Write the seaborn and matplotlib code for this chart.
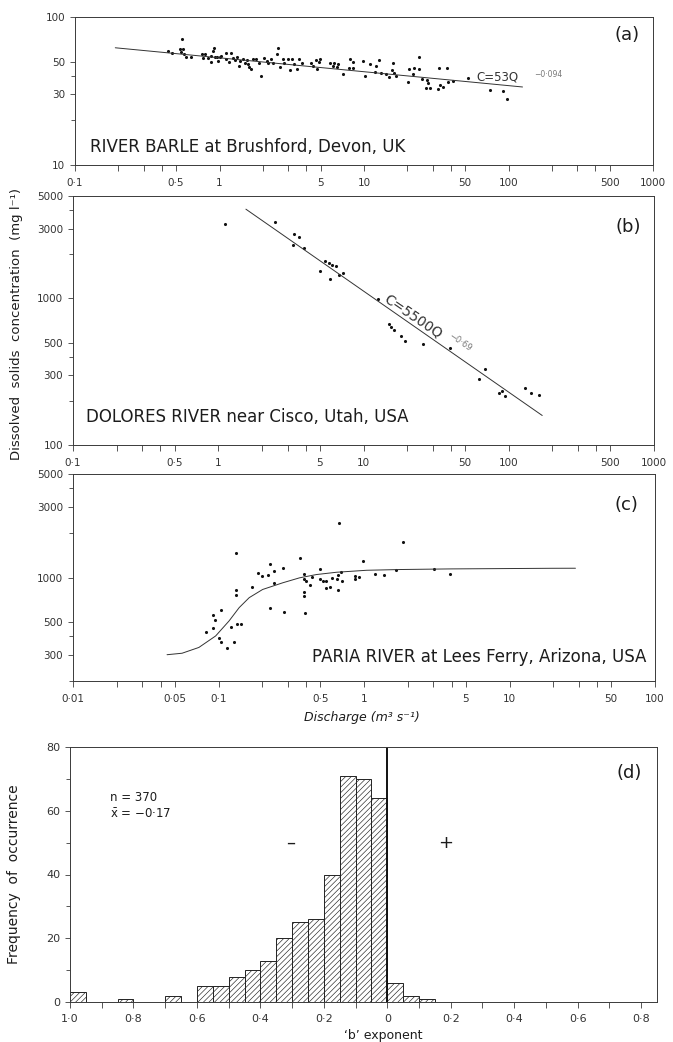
import numpy as np
import matplotlib
matplotlib.use("Agg")
import matplotlib.pyplot as plt
import seaborn as sns
from matplotlib.ticker import FixedLocator, FixedFormatter, NullFormatter

# ---------------- data ----------------
# (a) River Barle at Brushford -- discharge (m3/s) and dissolved solids (mg/l)
barle_q = [0.438, 0.467, 0.553, 0.533, 0.556, 0.539, 0.571, 0.586, 0.635, 0.754,
           0.794, 0.765, 0.837, 0.873, 0.916, 0.897, 0.869, 0.931, 0.966, 1.008,
           0.982, 1.024, 1.109, 1.109, 1.195, 1.169, 1.246, 1.286, 1.327, 1.365,
           1.387, 1.462, 1.494, 1.556, 1.581, 1.607, 1.660, 1.698, 1.789, 1.876,
           1.946, 2.032, 2.122, 2.177, 2.270, 2.355, 2.512, 2.553, 2.622, 2.735,
           2.806, 2.965, 3.076, 3.16, 3.279, 3.42, 3.548, 3.706, 4.30, 4.46,
           4.63, 4.71, 4.88, 4.96, 5.82, 6.07, 6.23, 6.47, 6.64, 7.12,
           8.0, 8.43, 7.87, 8.35, 9.89, 10.16, 11.0, 11.9, 12.05, 12.7,
           13.05, 14.2, 14.96, 15.55, 15.95, 16.2, 16.57, 20.26, 20.6, 21.7,
           22.2, 24.1, 24.1, 25.1, 27.2, 27.9, 26.9, 28.6, 32.7, 33.2,
           33.6, 35.0, 37.3, 37.9, 41.1, 52.2, 74.5, 92.0, 97.2]
barle_c = [58.9, 57.1, 71.3, 60.5, 61.1, 57.7, 56.0, 53.4, 53.4, 56.0,
           56.2, 53.1, 52.6, 54.8, 61.4, 58.9, 49.4, 53.9, 53.9, 53.4,
           50.7, 54.5, 56.8, 52.0, 57.4, 49.4, 53.1, 51.2, 53.9, 46.9,
           50.4, 52.0, 49.1, 51.2, 47.9, 46.1, 44.5, 51.8, 51.8, 49.1,
           40.1, 53.1, 50.4, 48.6, 52.0, 48.6, 56.0, 61.4, 46.1, 51.8,
           49.1, 51.8, 43.9, 52.0, 47.9, 44.5, 51.8, 48.6, 48.6, 46.9,
           51.2, 44.5, 49.4, 51.8, 49.1, 46.7, 48.6, 45.7, 47.9, 41.2,
           51.8, 49.9, 45.0, 45.4, 50.4, 40.1, 48.1, 42.3, 46.9, 51.2,
           42.0, 41.2, 39.1, 43.9, 49.1, 41.7, 39.9, 36.6, 44.5, 41.0,
           45.0, 53.9, 44.5, 38.1, 37.5, 35.6, 33.3, 33.3, 32.5, 45.4,
           34.7, 33.8, 45.4, 36.6, 36.9, 38.5, 32.1, 31.6, 27.9]
barle_coef, barle_exp = 53, -0.094
barle_fit_range = [0.19, 125]

# (b) Dolores River near Cisco
dolores_q = [1.121, 2.46, 3.33, 3.57, 3.29, 3.905, 5.46, 5.75, 6.07, 6.47,
             5.04, 5.88, 6.75, 7.19, 12.56, 14.9, 15.55, 16.13, 18.24, 19.44,
             25.5, 39.4, 68.7, 62.8, 85.9, 89.7, 93.5, 130, 143, 160.7]
dolores_c = [3221, 3340, 2753, 2638, 2317, 2199, 1801, 1754, 1692, 1665,
             1539, 1351, 1446, 1485, 987, 670, 642, 610, 557, 515,
             489, 462, 330, 282, 228, 234, 217, 244, 228, 220]
dolores_coef, dolores_exp = 5500, -0.69
dolores_fit_range = [1.55, 170]

# (c) Paria River at Lees Ferry
paria_q = [0.0823, 0.092, 0.0941, 0.092, 0.1008, 0.1035, 0.1046, 0.114, 0.1227, 0.128,
           0.1349, 0.1438, 0.1327, 0.1327, 0.1327, 0.1698, 0.1856, 0.1977, 0.2202, 0.2272,
           0.2394, 0.2421, 0.2272, 0.2764, 0.2808, 0.3648, 0.3844, 0.3844, 0.3844, 0.3844,
           0.3906, 0.4014, 0.4230, 0.4416, 0.4961, 0.4961, 0.5229, 0.5519, 0.5458, 0.5883,
           0.6034, 0.6577, 0.6535, 0.6932, 0.7011, 0.6641, 0.6714, 0.8664, 0.8664, 0.928,
           0.989, 1.191, 1.382, 1.665, 1.841, 3.017, 3.89]
paria_c = [426, 556, 517, 455, 390, 365, 603, 334, 462, 365,
           484, 489, 1465, 822, 757, 866, 1075, 1031, 1042, 1236,
           1102, 921, 626, 1154, 589, 1356, 1059, 980, 797, 749,
           580, 945, 884, 1011, 1144, 980, 945, 945, 844, 866,
           995, 1047, 970, 1085, 945, 818, 2329, 1020, 980, 1011,
           1287, 1064, 1036, 1119, 1726, 1149, 1064]
paria_curve_q = [0.0443, 0.0562, 0.0733, 0.0956, 0.1182, 0.1387, 0.1626, 0.201, 0.2764,
                 0.3607, 0.471, 0.647, 1.044, 1.774, 3.94, 19.4, 28.4]
paria_curve_c = [301, 308, 337, 403, 509, 626, 731, 830, 921,
                 995, 1047, 1085, 1119, 1132, 1143, 1154, 1155]

# (d) histogram of 'b' exponents
b_bin_left = [-1.00, -0.95, -0.90, -0.85, -0.80, -0.75, -0.70, -0.65, -0.60, -0.55,
              -0.50, -0.45, -0.40, -0.35, -0.30, -0.25, -0.20, -0.15, -0.10, -0.05,
              0.00, 0.05, 0.10]
b_bin_width = 0.05
b_counts = [3, 0, 0, 1, 0, 0, 2, 0, 5, 5,
            8, 10, 13, 20, 25, 26, 40, 71, 70, 64,
            6, 2, 1]

# tick labels
q_ticks_ab = [0.1, 0.5, 1, 5, 10, 50, 100, 500, 1000]
q_labels_ab = ["0·1", "0·5", "1", "5", "10", "50", "100", "500", "1000"]
q_minor_ab = [0.2, 0.3, 0.4, 2, 3, 4, 20, 30, 40, 200, 300, 400]
q_ticks_c = [0.01, 0.05, 0.1, 0.5, 1, 5, 10, 50, 100]
q_labels_c = ["0·01", "0·05", "0·1", "0·5", "1", "5", "10", "50", "100"]
q_minor_c = [0.02, 0.03, 0.04, 0.2, 0.3, 0.4, 2, 3, 4, 20, 30, 40]
a_yticks, a_ylabels, a_yminor = [10, 30, 50, 100], ["10", "30", "50", "100"], [20, 40]
b_yticks = [100, 300, 500, 1000, 3000, 5000]
b_ylabels = ["100", "300", "500", "1000", "3000", "5000"]
b_yminor = [200, 400, 2000, 4000]
c_yticks = [300, 500, 1000, 3000, 5000]
c_ylabels = ["300", "500", "1000", "3000", "5000"]
c_yminor = [200, 400, 2000, 4000]
d_xticks = [-1.0, -0.8, -0.6, -0.4, -0.2, 0.0, 0.2, 0.4, 0.6, 0.8]
d_xlabels = ["1·0", "0·8", "0·6", "0·4", "0·2", "0", "0·2", "0·4", "0·6", "0·8"]
d_xminor = [-0.9, -0.7, -0.5, -0.3, -0.1, 0.1, 0.3, 0.5, 0.7]
d_yticks, d_yminor = [0, 20, 40, 60, 80], [10, 30, 50, 70]

# ---------------- style ----------------
sns.set_style("ticks")
INK = "#1c1c1c"
plt.rcParams["font.family"] = ["DejaVu Sans"]
plt.rcParams.update({
    "axes.edgecolor": "#3a3a3a", "axes.linewidth": 0.7,
    "xtick.color": "#3a3a3a", "ytick.color": "#3a3a3a",
    "xtick.labelcolor": "#333333", "ytick.labelcolor": "#333333",
    "xtick.direction": "out", "ytick.direction": "out",
    "xtick.major.size": 4.5, "xtick.minor.size": 4.0,
    "ytick.major.size": 3.5, "ytick.minor.size": 3.0,
    "xtick.major.width": 0.6, "xtick.minor.width": 0.6,
    "ytick.major.width": 0.6, "ytick.minor.width": 0.6,
    "xtick.major.pad": 4.5,
    "xtick.labelsize": 7.5, "ytick.labelsize": 7.5,
    "hatch.linewidth": 0.45, "hatch.color": "#333333",
    "mathtext.fontset": "dejavusans",
})

W, H = 673, 1042
fig = plt.figure(figsize=(W / 100, H / 100), dpi=100)


def box(l, t, r, b):
    return [l / W, 1 - b / H, (r - l) / W, (b - t) / H]


ax_a = fig.add_axes(box(75, 17, 653, 165))
ax_b = fig.add_axes(box(73, 196, 654, 445))
ax_c = fig.add_axes(box(73, 474, 655, 681))
ax_d = fig.add_axes(box(70, 747, 657, 1002))


def style_log(ax, xlim, ylim, xt, xl, xm, yt, yl, ym):
    ax.set_xscale("log")
    ax.set_yscale("log")
    ax.set_xlim(*xlim)
    ax.set_ylim(*ylim)
    ax.xaxis.set_major_locator(FixedLocator(xt))
    ax.xaxis.set_major_formatter(FixedFormatter(xl))
    ax.xaxis.set_minor_locator(FixedLocator(xm))
    ax.xaxis.set_minor_formatter(NullFormatter())
    ax.yaxis.set_major_locator(FixedLocator(yt))
    ax.yaxis.set_major_formatter(FixedFormatter(yl))
    ax.yaxis.set_minor_locator(FixedLocator(ym))
    ax.yaxis.set_minor_formatter(NullFormatter())
    ax.set_xlabel("")
    ax.set_ylabel("")
    for s in ax.spines.values():
        s.set_visible(True)


dot_kw = dict(s=5, color="#111111", linewidth=0, legend=False)
line_kw = dict(color="#333333", linewidth=0.7, legend=False)

# (a)
qa = np.geomspace(barle_fit_range[0], barle_fit_range[1], 60)
sns.lineplot(x=qa, y=barle_coef * qa ** barle_exp, ax=ax_a, **line_kw)
sns.scatterplot(x=barle_q, y=barle_c, ax=ax_a, **dot_kw)
style_log(ax_a, (0.1, 1000), (10, 100), q_ticks_ab, q_labels_ab, q_minor_ab,
          a_yticks, a_ylabels, a_yminor)
ax_a.text(0.026, 0.122, "RIVER BARLE at Brushford, Devon, UK", transform=ax_a.transAxes,
          fontsize=12, ha="left", va="center", color=INK)
ax_a.text(0.9775, 0.878, "(a)", transform=ax_a.transAxes, fontsize=13,
          ha="right", va="center", color=INK)
ax_a.text(60, 39.4, "C=53Q", fontsize=8.5, ha="left", va="center", color="#333333")
ax_a.text(150, 40.8, "−0·094", fontsize=5.5, ha="left", va="center", color="#777777")

# (b)
qb = np.geomspace(dolores_fit_range[0], dolores_fit_range[1], 60)
sns.lineplot(x=qb, y=dolores_coef * qb ** dolores_exp, ax=ax_b, **line_kw)
sns.scatterplot(x=dolores_q, y=dolores_c, ax=ax_b, **dot_kw)
style_log(ax_b, (0.1, 1000), (100, 5000), q_ticks_ab, q_labels_ab, q_minor_ab,
          b_yticks, b_ylabels, b_yminor)
ax_b.text(0.0225, 0.112, "DOLORES RIVER near Cisco, Utah, USA", transform=ax_b.transAxes,
          fontsize=12, ha="left", va="center", color=INK)
ax_b.text(0.9775, 0.875, "(b)", transform=ax_b.transAxes, fontsize=13,
          ha="right", va="center", color=INK)
ax_b.text(21.9, 752, "C=5500Q", fontsize=10, rotation=-34.4, rotation_mode="anchor",
          ha="center", va="center", color="#333333")
ax_b.text(46.1, 507, "−0·69", fontsize=6, rotation=-34.4, rotation_mode="anchor",
          ha="center", va="center", color="#777777")

# (c)
sns.lineplot(x=paria_curve_q, y=paria_curve_c, ax=ax_c, **line_kw)
sns.scatterplot(x=paria_q, y=paria_c, ax=ax_c, **dot_kw)
style_log(ax_c, (0.01, 100), (200, 5000), q_ticks_c, q_labels_c, q_minor_c,
          c_yticks, c_ylabels, c_yminor)
ax_c.text(0.985, 0.115, "PARIA RIVER at Lees Ferry, Arizona, USA", transform=ax_c.transAxes,
          fontsize=12, ha="right", va="center", color=INK)
ax_c.text(0.971, 0.85, "(c)", transform=ax_c.transAxes, fontsize=13,
          ha="right", va="center", color=INK)

# (d)
edges = list(b_bin_left) + [b_bin_left[-1] + b_bin_width]
centers = [x + b_bin_width / 2 for x in b_bin_left]
sns.histplot(x=centers, weights=b_counts, bins=edges, ax=ax_d, color="white",
             edgecolor="#222222", linewidth=0.7, hatch="//////", alpha=1, legend=False)
ax_d.axvline(0, color="#111111", linewidth=1.4)
ax_d.set_xlim(-1.0, 0.85)
ax_d.set_ylim(0, 80)
ax_d.xaxis.set_major_locator(FixedLocator(d_xticks))
ax_d.xaxis.set_major_formatter(FixedFormatter(d_xlabels))
ax_d.xaxis.set_minor_locator(FixedLocator(d_xminor))
ax_d.yaxis.set_major_locator(FixedLocator(d_yticks))
ax_d.yaxis.set_minor_locator(FixedLocator(d_yminor))
ax_d.tick_params(axis="both", labelsize=8)
ax_d.set_xlabel("")
ax_d.set_ylabel("")
ax_d.text(-0.873, 64.2, "n = 370", fontsize=8.5, ha="left", va="center", color=INK)
ax_d.text(-0.873, 59.0, r"$\bar{\mathrm{x}}$ = −0·17", fontsize=8.5, ha="left",
          va="center", color=INK)
ax_d.text(-0.305, 50, "–", fontsize=13, ha="center", va="center", color=INK)
ax_d.text(0.185, 50, "+", fontsize=13, ha="center", va="center", color=INK)
ax_d.text(0.974, 0.899, "(d)", transform=ax_d.transAxes, fontsize=13,
          ha="right", va="center", color=INK)

# shared labels
fig.text(17 / W, 1 - 324 / H, "Dissolved  solids  concentration  (mg l⁻¹)", rotation=90,
         fontsize=9.5, ha="center", va="center", color=INK)
fig.text(362 / W, 1 - 717 / H, "Discharge (m³ s⁻¹)", style="italic",
         fontsize=9, ha="center", va="center", color=INK)
fig.text(14 / W, 1 - 874 / H, "Frequency  of  occurrence", rotation=90,
         fontsize=10, ha="center", va="center", color=INK)
fig.text(383 / W, 1 - 1035 / H, "‘b’ exponent", fontsize=9,
         ha="center", va="center", color=INK)

fig.savefig("out.png", dpi=100)
